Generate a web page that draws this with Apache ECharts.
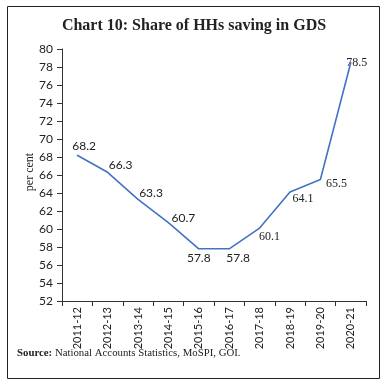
<!DOCTYPE html>
<html><head><meta charset="utf-8">
<script src="https://cdn.jsdelivr.net/npm/echarts@6/dist/echarts.min.js"></script>
<style>html,body{margin:0;padding:0;background:#fff}#c{width:388px;height:388px}</style>
</head><body><div id="c"></div>
<script>
var categories = ['2011-12','2012-13','2013-14','2014-15','2015-16','2016-17','2017-18','2018-19','2019-20','2020-21'];
var values = [68.2, 66.3, 63.3, 60.7, 57.8, 57.8, 60.1, 64.1, 65.5, 78.5];
var labelOffsets = [[7,-9],[13,-7],[13,-6],[15,-5],[0,9],[9,9],[10,9],[13,7],[16,4],[6,0]];
var labelFonts = ['Lato','Lato','Lato','Lato','Lato','Lato','Liberation Serif','Liberation Serif','Liberation Serif','Liberation Serif'];

var chart = echarts.init(document.getElementById('c'));
chart.setOption({
  animation: false,
  backgroundColor: '#fff',
  title: {
    text: 'Chart 10: Share of HHs saving in GDS',
    left: 'center', top: 13,
    textStyle: {fontFamily: 'Liberation Serif', fontWeight: 'bold', fontSize: 16, color: '#222'}
  },
  grid: {left: 62, right: 22, top: 49, bottom: 87},
  xAxis: {
    type: 'category', data: categories, boundaryGap: true,
    axisLine: {lineStyle: {color: '#333', width: 1}},
    axisTick: {show: true, length: 5, alignWithLabel: false, lineStyle: {color: '#333'}},
    axisLabel: {rotate: 90, margin: 6, fontFamily: 'Lato', fontSize: 11, color: '#222', interval: 0}
  },
  yAxis: {
    type: 'value', min: 52, max: 80, interval: 2,
    splitLine: {show: false},
    axisLine: {show: true, lineStyle: {color: '#333', width: 1}},
    axisTick: {show: true, length: 5, lineStyle: {color: '#333'}},
    axisLabel: {margin: 9, fontFamily: 'Lato', fontSize: 12, color: '#222'}
  },
  series: [{
    type: 'line',
    data: values.map(function (v, i) {
      return {value: v, label: {offset: labelOffsets[i], fontFamily: labelFonts[i]}};
    }),
    symbol: 'circle', symbolSize: 1,
    itemStyle: {color: '#4472C4'},
    lineStyle: {color: '#4472C4', width: 1.6},
    label: {show: true, position: 'inside', fontSize: 12, color: '#222'}
  }],
  graphic: [
    {type: 'rect', shape: {x: 7.5, y: 6.5, width: 372, height: 372}, style: {fill: 'none', stroke: '#222', lineWidth: 1}},
    {type: 'text', x: 30, y: 172, rotation: Math.PI / 2, style: {
      text: 'per cent', fontFamily: 'Liberation Serif', fontSize: 12, fill: '#222',
      align: 'center', verticalAlign: 'middle'
    }},
    {type: 'text', left: 17, top: 348, style: {
      text: '{b|Source:} National Accounts Statistics, MoSPI, GOI.',
      rich: {b: {fontWeight: 'bold', fontFamily: 'Liberation Serif', fontSize: 10.8, fill: '#222'}},
      fontFamily: 'Liberation Serif', fontSize: 10.8, fill: '#222'
    }}
  ]
});
</script></body></html>
